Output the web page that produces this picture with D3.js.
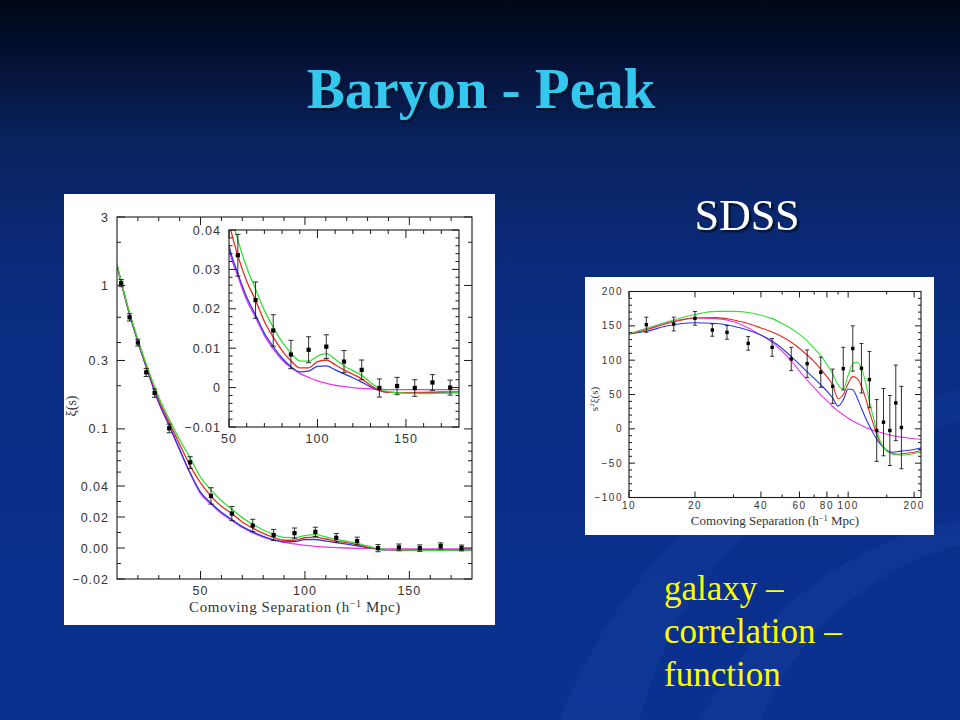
<!DOCTYPE html>
<html>
<head>
<meta charset="utf-8">
<script src="https://cdn.jsdelivr.net/npm/d3@7"></script>
<style>
  body { margin: 0; background: #0a2a80; }
  svg { display: block; }
</style>
</head>
<body>
<svg id="slide" width="960" height="720"></svg>
<script>
const sep = [10, 12, 15, 20, 25, 30, 35, 40, 45, 50, 55, 60, 65, 70, 75, 80, 85, 90, 95, 100,
  105, 110, 115, 120, 125, 130, 135, 140, 150, 160, 170, 180];
const xiGreen = [1.40, 1.07, 0.73, 0.42, 0.258, 0.167, 0.117, 0.084, 0.063, 0.046, 0.0375, 0.0305,
  0.025, 0.0196, 0.0153, 0.0116, 0.0088, 0.0068, 0.0067, 0.0080, 0.0086, 0.0072, 0.0055, 0.0043,
  0.0031, 0.0013, -0.0003, -0.0010, -0.0014, -0.0015, -0.0014, -0.0013];
const xiRed = [1.39, 1.06, 0.72, 0.415, 0.252, 0.160, 0.111, 0.078, 0.0555, 0.042, 0.0335, 0.027,
  0.0222, 0.0168, 0.0128, 0.0094, 0.0068, 0.0050, 0.0050, 0.0066, 0.0070, 0.0058, 0.0045, 0.0034,
  0.0022, 0.0006, -0.0007, -0.0012, -0.0013, -0.0012, -0.0011, -0.0011];
const xiBlue = [1.38, 1.05, 0.71, 0.405, 0.245, 0.153, 0.106, 0.072, 0.0495, 0.036, 0.029, 0.023,
  0.0184, 0.0138, 0.0104, 0.0075, 0.0053, 0.0040, 0.0042, 0.0054, 0.0055, 0.0045, 0.0035, 0.0025,
  0.0014, 0.0002, -0.0008, -0.0012, -0.0013, -0.0013, -0.0013, -0.0013];
const xiMagenta = [1.38, 1.05, 0.71, 0.405, 0.245, 0.152, 0.105, 0.071, 0.049, 0.035, 0.0283, 0.0222,
  0.0178, 0.0132, 0.0098, 0.0070, 0.0051, 0.0036, 0.0026, 0.0017, 0.0011, 0.0006, 0.0003, 0.0000,
  -0.0002, -0.0003, -0.0004, -0.0005, -0.0005, -0.0005, -0.0005, -0.0005];

// SDSS LRG bins
const binS = [12, 16, 20, 24, 28, 35, 45, 55, 65, 75, 85, 95, 105, 115, 125, 135, 145, 155, 165, 175];
const xiObs = [1.04, 0.60, 0.40, 0.248, 0.178, 0.101, 0.0585, 0.0336, 0.0222, 0.0145, 0.0084, 0.0096,
  0.0104, 0.0066, 0.0045, -0.0001, 0.0004, -0.0001, 0.0013, 0.0000];
const xiErr = [0.06, 0.035, 0.022, 0.016, 0.012, 0.007, 0.0055, 0.0053, 0.0046, 0.0040, 0.0036, 0.0033,
  0.0030, 0.0028, 0.0025, 0.0023, 0.0022, 0.0021, 0.0020, 0.0019];

// right panel, s^2 xi(s)
const sep2 = [10, 12, 15, 20, 25, 30, 35, 40, 45, 50, 55, 60, 65, 70, 75, 80, 85, 90, 95, 100,
  105, 110, 115, 120, 125, 130, 135, 140, 150, 160, 170, 180, 200, 215];
const s2Green = [138, 146, 156, 166.5, 171, 171, 169.5, 165.5, 160.5, 153.5, 146, 137.5, 128, 117, 106.5,
  94, 80, 64, 58, 78, 95, 97, 88, 68, 40, 18, -2, -18, -32, -37, -38, -38, -36, -34];
const s2Red = [138, 144.5, 153.5, 161.5, 162, 158.5, 153.5, 147, 141, 134, 126, 117, 107.5, 98, 87,
  76, 64, 44, 50, 66, 76, 73, 62, 45, 25, 8, -8, -20, -32, -36, -37, -36, -34, -32];
const s2Blue = [138, 142, 150, 154.5, 153.5, 149.5, 143.5, 136.5, 128, 117, 105, 94, 83, 73.5, 64,
  55, 45, 33, 42, 58, 57, 45, 30, 16, 4, -6, -15, -22, -31, -34, -33, -32, -30, -28];
const s2Magenta = [138, 146, 155, 161.5, 160.5, 156, 147, 136.5, 126, 113, 99, 84, 71, 60, 49.5,
  41, 32.5, 26, 20.5, 15.5, 11.5, 8, 5, 2, 0, -2, -3.5, -5, -8, -10, -11.5, -12.5, -14.5, -15.5];
const s2Obs = [151.6, 152.6, 160.9, 143.9, 140.5, 124.5, 118.7, 101.7, 94.9, 82.4, 62.0, 87.7, 117,
  88.2, 71.7, -2.4, 9.7, -2.4, 37.8, 1.9];
const s2Err = [11, 10, 10, 9, 10, 10, 13, 17, 20, 22, 25, 31, 33, 36, 41, 45, 49, 51, 55, 60];

// tick labels
const mainYTicks = [3, 1, 0.3, 0.1, 0.04, 0.02, 0, -0.02];
const mainYLabels = ["3", "1", "0.3", "0.1", "0.04", "0.02", "0.00", "\u22120.02"];
const mainYMinor = [2, 0.6, 0.4, 0.2, 0.08, 0.07, 0.06, 0.05, 0.03, 0.01, -0.01];
const mainXTicks = [50, 100, 150];
const insetYTicks = [0.04, 0.03, 0.02, 0.01, 0, -0.01];
const insetYLabels = ["0.04", "0.03", "0.02", "0.01", "0", "\u22120.01"];
const insetXTicks = [50, 100, 150];
const rightXTicks = [10, 20, 40, 60, 80, 100, 200];
const rightXMinor = [30, 50, 70, 90, 150];
const rightYTicks = [200, 150, 100, 50, 0, -50, -100];

const models = [
  { name: "magenta", color: "#e83be8", xi: xiMagenta, s2: s2Magenta },
  { name: "blue", color: "#2a36e6", xi: xiBlue, s2: s2Blue },
  { name: "red", color: "#e82a22", xi: xiRed, s2: s2Red },
  { name: "green", color: "#35e035", xi: xiGreen, s2: s2Green }
];

const serif = "'Liberation Serif', 'Times New Roman', 'DejaVu Serif', serif";
const svg = d3.select("#slide");
const defs = svg.append("defs");

// ---------- background ----------
const grad = defs.append("linearGradient").attr("id", "bg").attr("x1", 0).attr("y1", 0).attr("x2", 0).attr("y2", 1);
[[0, "#010716"], [0.08, "#041134"], [0.2, "#09235f"], [0.4, "#0b2c80"], [1, "#0a3192"]].forEach(s =>
  grad.append("stop").attr("offset", s[0]).attr("stop-color", s[1]));
svg.append("rect").attr("width", 960).attr("height", 720).attr("fill", "url(#bg)");

// faint swooshes on the right
svg.append("path")
  .attr("d", "M560,720 C620,560 760,430 960,390 L960,420 C800,460 680,560 640,720 Z")
  .attr("fill", "#3f6fd8").attr("opacity", 0.1);
svg.append("path")
  .attr("d", "M700,720 C760,610 850,540 960,520 L960,545 C870,570 800,630 760,720 Z")
  .attr("fill", "#4d7fe6").attr("opacity", 0.08);

// ---------- slide text ----------
defs.append("filter").attr("id", "shadow").attr("x", "-10%").attr("y", "-20%").attr("width", "130%").attr("height", "150%")
  .append("feDropShadow").attr("dx", 2.5).attr("dy", 2.5).attr("stdDeviation", 0.6)
  .attr("flood-color", "#000a28").attr("flood-opacity", 0.8);

svg.append("text").attr("x", 481).attr("y", 108).attr("text-anchor", "middle")
  .attr("font-family", serif).attr("font-size", 57).attr("font-weight", "bold")
  .attr("fill", "#35c8ee").attr("filter", "url(#shadow)").text("Baryon - Peak");
svg.append("text").attr("x", 747).attr("y", 230).attr("text-anchor", "middle")
  .attr("font-family", serif).attr("font-size", 44)
  .attr("fill", "#ffffff").attr("filter", "url(#shadow)").text("SDSS");

["galaxy \u2013", "correlation \u2013", "function"].forEach((t, i) => {
  svg.append("text").attr("x", 664).attr("y", 600 + i * 43).text(t)
    .attr("font-family", serif).attr("font-size", 35).attr("fill", "#ffff00");
});

// ---------- helpers ----------
const ink = "#1a1a1a";
const tickFont = "Liberation Sans";

function frame(g, b) {
  g.append("rect").attr("x", b.x0).attr("y", b.y0).attr("width", b.x1 - b.x0).attr("height", b.y1 - b.y0)
    .attr("fill", "none").attr("stroke", ink).attr("stroke-width", 1.1);
}
function xTicks(g, b, pos, vals, len) {
  g.append("g").selectAll("line").data(vals).join("line")
    .attr("x1", d => pos(d)).attr("x2", d => pos(d)).attr("y1", b.y1).attr("y2", b.y1 - len)
    .attr("stroke", ink).attr("stroke-width", 1);
  g.append("g").selectAll("line").data(vals).join("line")
    .attr("x1", d => pos(d)).attr("x2", d => pos(d)).attr("y1", b.y0).attr("y2", b.y0 + len)
    .attr("stroke", ink).attr("stroke-width", 1);
}
function yTicks(g, b, pos, vals, len) {
  g.append("g").selectAll("line").data(vals).join("line")
    .attr("y1", d => pos(d)).attr("y2", d => pos(d)).attr("x1", b.x0).attr("x2", b.x0 + len)
    .attr("stroke", ink).attr("stroke-width", 1);
  g.append("g").selectAll("line").data(vals).join("line")
    .attr("y1", d => pos(d)).attr("y2", d => pos(d)).attr("x1", b.x1).attr("x2", b.x1 - len)
    .attr("stroke", ink).attr("stroke-width", 1);
}
function xLabels(g, b, pos, vals, labels, dy, size, spacing) {
  g.append("g").selectAll("text").data(vals).join("text")
    .attr("x", d => pos(d)).attr("y", b.y1 + dy).attr("text-anchor", "middle")
    .attr("font-family", tickFont).attr("font-size", size).attr("letter-spacing", spacing)
    .attr("fill", "#333").text((d, i) => labels[i]);
}
function yLabels(g, b, pos, vals, labels, dx, size, spacing) {
  g.append("g").selectAll("text").data(vals).join("text")
    .attr("x", b.x0 - dx).attr("y", d => pos(d)).attr("dy", "0.36em").attr("text-anchor", "end")
    .attr("font-family", tickFont).attr("font-size", size).attr("letter-spacing", spacing)
    .attr("fill", "#333").text((d, i) => labels[i]);
}
function errorBars(g, xs, ys, es, xp, yp, cap, sq) {
  const pts = xs.map((x, i) => ({ x: x, y: ys[i], e: es[i] }));
  const eg = g.append("g").attr("stroke", ink).attr("stroke-width", 0.9);
  eg.selectAll(".bar").data(pts).join("line")
    .attr("x1", d => xp(d.x)).attr("x2", d => xp(d.x))
    .attr("y1", d => yp(d.y - d.e)).attr("y2", d => yp(d.y + d.e));
  eg.selectAll(".capTop").data(pts).join("line")
    .attr("x1", d => xp(d.x) - cap).attr("x2", d => xp(d.x) + cap)
    .attr("y1", d => yp(d.y + d.e)).attr("y2", d => yp(d.y + d.e));
  eg.selectAll(".capBot").data(pts).join("line")
    .attr("x1", d => xp(d.x) - cap).attr("x2", d => xp(d.x) + cap)
    .attr("y1", d => yp(d.y - d.e)).attr("y2", d => yp(d.y - d.e));
  g.append("g").selectAll("rect").data(pts).join("rect")
    .attr("x", d => xp(d.x) - sq / 2).attr("y", d => yp(d.y) - sq / 2)
    .attr("width", sq).attr("height", sq).attr("fill", "#000");
}

// ---------- left figure ----------
svg.append("rect").attr("x", 64).attr("y", 194).attr("width", 431).attr("height", 431).attr("fill", "#fff");
const left = svg.append("g");
const M = { x0: 117, x1: 472, y0: 217, y1: 579 };
const xMain = d3.scaleLinear().domain([10, 180]).range([M.x0, M.x1]);
const yMainLog = d3.scaleLog().domain([0.04, 3]).range([486, M.y0]);
const yMainLin = d3.scaleLinear().domain([-0.02, 0.04]).range([M.y1, 486]);
const yMain = v => (v >= 0.04 ? yMainLog(v) : yMainLin(v));

defs.append("clipPath").attr("id", "clipMain").append("rect")
  .attr("x", M.x0).attr("y", M.y0).attr("width", M.x1 - M.x0).attr("height", M.y1 - M.y0);

const lineMain = d3.line().x(d => xMain(d[0])).y(d => yMain(d[1])).curve(d3.curveMonotoneX);
const curvesMain = left.append("g").attr("clip-path", "url(#clipMain)");
models.forEach(m => {
  curvesMain.append("path").datum(sep.map((s, i) => [s, m.xi[i]]))
    .attr("d", lineMain).attr("fill", "none").attr("stroke", m.color).attr("stroke-width", 1.3);
});
errorBars(left, binS, xiObs, xiErr, xMain, yMain, 2.6, 4.2);

frame(left, M);
xTicks(left, M, xMain, d3.range(20, 180, 10).filter(v => v % 50 !== 0), 4);
xTicks(left, M, xMain, mainXTicks, 8);
yTicks(left, M, yMain, mainYMinor, 4);
yTicks(left, M, yMain, mainYTicks, 8);
xLabels(left, M, xMain, mainXTicks, mainXTicks.map(String), 16, 12.5, 1);
yLabels(left, M, yMain, mainYTicks, mainYLabels, 8, 12.5, 1);

const mxl = left.append("text").attr("x", 295).attr("y", 612).attr("text-anchor", "middle")
  .attr("font-family", serif).attr("font-size", 15).attr("letter-spacing", 0.6).attr("fill", "#333");
mxl.append("tspan").text("Comoving Separation (h");
mxl.append("tspan").text("\u22121").attr("font-size", 10).attr("dy", -5);
mxl.append("tspan").text(" Mpc)").attr("dy", 5);
left.append("text").attr("transform", "translate(76,406) rotate(-90)").attr("text-anchor", "middle")
  .attr("font-family", serif).attr("font-size", 14).attr("fill", "#333").text("\u03be(s)");

// inset
const I = { x0: 229, x1: 459, y0: 230, y1: 427 };
const xIn = d3.scaleLinear().domain([50, 180]).range([I.x0, I.x1]);
const yIn = d3.scaleLinear().domain([-0.01, 0.04]).range([I.y1, I.y0]);
left.append("rect").attr("x", I.x0).attr("y", I.y0).attr("width", I.x1 - I.x0).attr("height", I.y1 - I.y0).attr("fill", "#fff");
defs.append("clipPath").attr("id", "clipIn").append("rect")
  .attr("x", I.x0).attr("y", I.y0).attr("width", I.x1 - I.x0).attr("height", I.y1 - I.y0);
const lineIn = d3.line().x(d => xIn(d[0])).y(d => yIn(d[1])).curve(d3.curveMonotoneX);
const curvesIn = left.append("g").attr("clip-path", "url(#clipIn)");
models.forEach(m => {
  curvesIn.append("path").datum(sep.map((s, i) => [s, m.xi[i]]).filter(d => d[0] >= 45))
    .attr("d", lineIn).attr("fill", "none").attr("stroke", m.color).attr("stroke-width", 1.3);
});
const inIdx = binS.map((s, i) => i).filter(i => binS[i] >= 50);
errorBars(left, inIdx.map(i => binS[i]), inIdx.map(i => xiObs[i]), inIdx.map(i => xiErr[i]), xIn, yIn, 2.6, 4.2);
frame(left, I);
xTicks(left, I, xIn, d3.range(60, 180, 10).filter(v => v % 50 !== 0), 4);
xTicks(left, I, xIn, insetXTicks, 8);
yTicks(left, I, yIn, d3.range(-0.008, 0.04, 0.002).filter(v => Math.abs(v * 100 - Math.round(v * 100)) > 1e-6), 3.5);
yTicks(left, I, yIn, insetYTicks, 7);
xLabels(left, I, xIn, insetXTicks, insetXTicks.map(String), 16, 12.5, 1);
yLabels(left, I, yIn, insetYTicks, insetYLabels, 8, 12.5, 1);

// ---------- right figure ----------
svg.append("rect").attr("x", 585).attr("y", 277).attr("width", 349).attr("height", 258).attr("fill", "#fff");
const right = svg.append("g");
const R = { x0: 629, x1: 921, y0: 291.5, y1: 497.5 };
const xR = d3.scaleLog().domain([10, 215]).range([R.x0, R.x1]);
const yR = d3.scaleLinear().domain([-100, 200]).range([R.y1, R.y0]);
defs.append("clipPath").attr("id", "clipR").append("rect")
  .attr("x", R.x0).attr("y", R.y0).attr("width", R.x1 - R.x0).attr("height", R.y1 - R.y0);
const lineR = d3.line().x(d => xR(d[0])).y(d => yR(d[1])).curve(d3.curveMonotoneX);
const curvesR = right.append("g").attr("clip-path", "url(#clipR)");
models.forEach(m => {
  curvesR.append("path").datum(sep2.map((s, i) => [s, m.s2[i]]))
    .attr("d", lineR).attr("fill", "none").attr("stroke", m.color).attr("stroke-width", 1.1);
});
errorBars(right, binS, s2Obs, s2Err, xR, yR, 2, 3.4);
frame(right, R);
xTicks(right, R, xR, rightXMinor, 3);
xTicks(right, R, xR, rightXTicks, 6);
yTicks(right, R, yR, d3.range(-90, 200, 10).filter(v => v % 50 !== 0), 3);
yTicks(right, R, yR, rightYTicks, 6);
xLabels(right, R, xR, rightXTicks, rightXTicks.map(String), 11, 10, 1.5);
yLabels(right, R, yR, rightYTicks, rightYTicks.map(v => v < 0 ? "\u2212" + (-v) : String(v)), 6, 10, 1.5);

const rxl = right.append("text").attr("x", 775).attr("y", 525).attr("text-anchor", "middle")
  .attr("font-family", serif).attr("font-size", 13).attr("fill", "#333");
rxl.append("tspan").text("Comoving Separation (h");
rxl.append("tspan").text("\u22121").attr("font-size", 8.5).attr("dy", -4);
rxl.append("tspan").text(" Mpc)").attr("dy", 4);
const ryl = right.append("text").attr("transform", "translate(598,399) rotate(-90)").attr("text-anchor", "middle")
  .attr("font-family", serif).attr("font-size", 11).attr("fill", "#333");
ryl.append("tspan").text("s");
ryl.append("tspan").text("2").attr("font-size", 7).attr("dy", -4);
ryl.append("tspan").text("\u03be(s)").attr("dy", 4);
</script>
</body>
</html>
